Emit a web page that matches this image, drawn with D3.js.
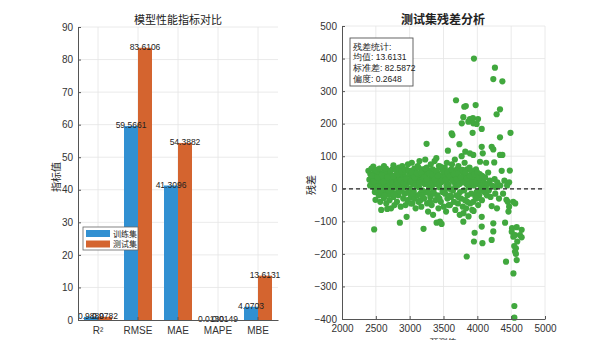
<!DOCTYPE html>
<html>
<head>
<meta charset="utf-8">
<script src="https://cdn.jsdelivr.net/npm/d3@7/dist/d3.min.js"></script>
<style>
  html, body { margin: 0; padding: 0; background: #fff; }
  svg { display: block; }
  text { font-family: "Liberation Sans", Arial, sans-serif; }
  .cjk { font-family: "Noto Sans CJK SC", sans-serif; }
</style>
</head>
<body>
<svg id="chart" width="600" height="340"></svg>
<script>
// ---- metric comparison (bars) ----
const metrics = ["R²", "RMSE", "MAE", "MAPE", "MBE"];
const trainValues = [0.9880, 59.5661, 41.3096, 0.0130, 4.0703];
const testValues = [0.9782, 83.6106, 54.3882, 0.0149, 13.6131];
const seriesNames = ["训练集", "测试集"];
const barTicks = [0, 10, 20, 30, 40, 50, 60, 70, 80, 90];

// ---- test-set residuals: [predicted value, residual] ----
const residuals = [
  [2390,55],[2405,28],[2420,45],[2435,62],[2445,18],[2455,38],[2462,68],[2470,5],[2478,48],[2485,-10],[2490,25],[2495,-34],[2475,-125],
  [2505,40],[2512,15],[2520,55],[2528,-5],[2535,30],[2545,-20],[2550,48],[2560,10],[2565,-40],[2572,35],[2580,-65],[2585,20],[2592,-15],[2598,45],
  [2605,5],[2612,38],[2620,-28],[2625,55],[2632,15],[2640,-10],[2648,42],[2655,-45],[2660,25],[2668,-62],[2675,8],[2680,50],[2688,-18],[2695,30],
  [2702,-35],[2710,45],[2718,12],[2725,-60],[2730,28],[2738,-8],[2745,60],[2752,18],[2760,-25],[2768,40],[2775,-50],[2782,5],[2790,35],[2798,-15],
  [2805,22],[2812,-40],[2820,50],[2826,0],[2834,-20],[2840,65],[2848,30],[2855,-104],[2860,10],[2868,-55],[2875,42],[2882,-5],[2890,70],[2896,20],
  [2905,-30],[2912,48],[2920,5],[2926,-15],[2934,35],[2940,-50],[2948,60],[2955,-86],[2960,15],[2968,-35],[2975,75],[2982,25],[2990,-10],[2996,45],
  [3005,0],[3012,55],[3018,-25],[3025,30],[3032,80],[3040,-45],[3046,15],[3054,40],[3060,-8],[3068,62],[3074,-30],[3080,22],[3088,-60],[3095,50],
  [3102,10],[3110,-20],[3118,70],[3124,35],[3130,-40],[3138,5],[3145,85],[3150,45],[3158,-15],[3165,25],[3172,-55],[3180,60],[3186,-5],[3194,30],
  [3205,-123],[3208,50],[3215,-30],[3222,15],[3230,90],[3236,40],[3244,-10],[3250,138],[3252,65],[3258,-45],[3265,20],[3272,-70],[3280,55],[3288,5],[3295,30],
  [3305,-25],[3312,75],[3318,40],[3325,-50],[3332,10],[3340,60],[3346,-80],[3354,25],[3360,-15],[3368,85],[3374,45],[3380,-35],[3388,15],[3394,94],[3398,-104],
  [3405,50],[3412,-20],[3420,30],[3426,-60],[3432,70],[3440,5],[3448,-101],[3452,40],[3460,-40],[3466,20],[3472,-108],[3478,60],[3485,-10],[3492,35],
  [3505,-55],[3510,25],[3518,65],[3524,-15],[3530,45],[3538,-70],[3545,10],[3550,80],[3558,-30],[3565,117],[3570,30],[3578,-50],[3585,55],[3592,0],
  [3596,-50],[3605,40],[3612,-25],[3620,170],[3625,75],[3632,165],[3640,-5],[3646,50],[3654,-40],[3660,20],[3668,90],[3675,-65],[3682,35],[3685,272],[3690,-20],[3698,60],
  [3705,10],[3712,-45],[3720,70],[3728,30],[3735,137],[3740,-80],[3745,-10],[3752,55],[3760,-30],[3768,100],[3770,201],[3776,20],[3785,-55],[3793,-101],[3795,-75],[3793,220],[3798,45],
  [3807,252],[3822,114],[3830,254],[3805,-5],[3812,80],[3818,-35],[3825,30],[3835,-60],[3840,15],[3843,-208],[3848,60],[3855,-20],[3862,40],[3867,206],[3870,-85],[3878,5],[3885,65],[3890,214],[3890,109],[3895,-45],
  [3902,25],[3910,-15],[3918,50],[3925,-65],[3930,172],[3935,217],[3940,201],[3940,104],[3940,-40],[3945,-68],[3950,400],[3950,-162],[3952,10],[3960,-135],[3965,35],[3972,-25],[3975,257],[3980,60],[3988,-10],[3990,199],
  [4005,30],[4010,214],[4012,-50],[4020,15],[4028,-20],[4035,45],[4040,83],[4048,-5],[4055,25],[4065,184],[4065,129],[4065,-86],[4065,-116],[4068,-35],[4075,-167],[4080,109],[4085,5],[4095,20],
  [4105,-10],[4115,35],[4125,0],[4130,80],[4140,-20],[4150,15],[4160,50],[4170,-5],[4185,25],[4195,-25],
  [4212,129],[4212,-53],[4212,-157],[4220,10],[4236,121],[4236,-106],[4236,-131],[4236,337],[4250,81],[4260,372],[4255,30],[4265,-15],[4270,5],[4285,229],[4290,-60],[4295,20],
  [4335,244],[4335,158],[4335,104],[4370,330],[4370,104],[4320,-30],[4340,10],[4360,55],[4380,-15],[4400,25],[4410,-104],[4424,-224],[4430,-34],[4450,-40],[4440,10],[4460,-70],[4470,-55],[4480,56],[4490,172],[4470,20],
  [4508,-132],[4513,-121],[4530,-40],[4533,-260],[4532,-147],[4545,-176],[4547,-360],[4547,-396],[4557,-142],[4557,-193],[4560,-45],[4570,-183],[4570,-200],[4582,-219],[4582,-118],[4590,-162],[4630,-142],[4655,-126],[4655,-149],
  // the densely packed core of the cloud
  [2415,10],[2440,40],[2465,22],[2500,58],[2525,35],[2540,8],[2555,62],[2575,-8],[2590,42],[2615,22],[2630,-20],[2650,62],[2670,35],[2690,-5],
  [2715,55],[2735,5],[2755,38],[2772,-18],[2795,58],[2815,15],[2830,45],[2850,-8],[2870,25],[2885,52],[2910,18],[2930,58],[2950,30],[2970,-12],
  [2985,55],[3008,22],[3030,50],[3050,-15],[3070,35],[3090,10],[3108,48],[3128,65],[3148,18],[3168,50],[3190,-20],[3212,35],[3232,62],[3255,28],
  [3275,-12],[3292,48],[3315,15],[3335,45],[3350,-5],[3372,28],[3392,55],[3415,40],[3435,15],[3455,68],[3475,25],[3495,52],[3515,-5],[3535,28],
  [3555,50],[3575,12],[3595,38],[3615,60],[3635,25],[3655,45],[3672,5],[3695,30],[3715,48],[3738,15],[3758,35],[3780,58],[3800,20],[3820,50],
  [3845,32],[3865,12],[3888,40],[3908,55],[3928,20],[3958,45],[3982,15],[4000,50],[4025,35],[4045,10],[4070,40],[2620,70],[2760,72],[3020,-45],
  [3160,-35],[3300,-40],[3440,-30],[3600,-20],[3720,-25],[3850,-40],[3990,-30]
];
const residualXTicks = [2000, 2500, 3000, 3500, 4000, 4500, 5000];
const residualYTicks = [-400, -300, -200, -100, 0, 100, 200, 300, 400, 500];
const statLines = ["残差统计:", "均值: 13.6131", "标准差: 82.5872", "偏度: 0.2648"];

const colors = { train: "#3190d2", test: "#d4642f", dots: "#41a83e" };
const gridColor = "#e4e4e4";
const axisColor = "#555";
const tickText = "#333";

const svg = d3.select("#chart");

// ================= left panel: grouped bars =================
const L = { left: 78, right: 278, top: 27, bottom: 320 };
const x0 = d3.scaleBand().domain(metrics).range([L.left, L.right]).paddingInner(0.3).paddingOuter(0.15);
const x1 = d3.scaleBand().domain(["train", "test"]).range([0, x0.bandwidth()]);
const yL = d3.scaleLinear().domain([0, 90]).range([L.bottom, L.top]);

const gl = svg.append("g");
// grid
gl.append("g").selectAll("line").data(barTicks.slice(1)).join("line")
  .attr("x1", L.left).attr("x2", L.right)
  .attr("y1", d => yL(d)).attr("y2", d => yL(d))
  .attr("stroke", gridColor).attr("stroke-width", 0.8);
gl.append("g").selectAll("line").data(metrics).join("line")
  .attr("x1", d => x0(d) + x0.bandwidth() / 2).attr("x2", d => x0(d) + x0.bandwidth() / 2)
  .attr("y1", L.top).attr("y2", L.bottom)
  .attr("stroke", gridColor).attr("stroke-width", 0.8);

// bars
const barRows = metrics.map((m, i) => ({ m, train: trainValues[i], test: testValues[i] }));
const groups = gl.append("g").selectAll("g").data(barRows).join("g")
  .attr("transform", d => `translate(${x0(d.m)},0)`);
groups.selectAll("rect").data(d => [["train", d.train], ["test", d.test]]).join("rect")
  .attr("x", d => x1(d[0]))
  .attr("width", x1.bandwidth())
  .attr("y", d => yL(d[1]))
  .attr("height", d => yL(0) - yL(d[1]))
  .attr("fill", d => colors[d[0]]);
groups.selectAll("text").data(d => [["train", d.train], ["test", d.test]]).join("text")
  .attr("x", d => x1(d[0]) + x1.bandwidth() / 2)
  .attr("y", d => yL(d[1]) + 2)
  .attr("text-anchor", "middle")
  .attr("font-size", 8.5)
  .attr("fill", "#222")
  .text(d => d[1].toFixed(4));

// axes
const axL = gl.append("g").attr("transform", `translate(${L.left},0)`)
  .call(d3.axisLeft(yL).tickValues(barTicks).tickSize(-3).tickPadding(5));
const axB = gl.append("g").attr("transform", `translate(0,${L.bottom})`)
  .call(d3.axisBottom(x0).tickSize(-3).tickPadding(5).tickSizeOuter(0));
[axL, axB].forEach(a => {
  a.select(".domain").attr("stroke", axisColor);
  a.selectAll(".tick line").attr("stroke", axisColor);
  a.selectAll("text").attr("font-size", 10).attr("fill", tickText)
    .attr("font-family", "'Liberation Sans', Arial, sans-serif");
});
axB.selectAll(".tick text").attr("dy", "0.9em");

// labels
gl.append("text").attr("class", "cjk").attr("x", 178).attr("y", 24)
  .attr("text-anchor", "middle").attr("font-size", 11).attr("fill", "#222")
  .text("模型性能指标对比");
gl.append("text").attr("class", "cjk")
  .attr("transform", "translate(60,177) rotate(-90)")
  .attr("text-anchor", "middle").attr("font-size", 10).attr("fill", "#222")
  .text("指标值");

// legend
const lg = gl.append("g").attr("transform", "translate(83,227)");
lg.append("rect").attr("width", 55).attr("height", 23).attr("fill", "#fff").attr("stroke", "#666").attr("stroke-width", 0.8);
seriesNames.forEach((name, i) => {
  const key = i === 0 ? "train" : "test";
  lg.append("rect").attr("x", 3).attr("y", 3 + i * 10.5).attr("width", 24).attr("height", 7).attr("fill", colors[key]);
  lg.append("text").attr("class", "cjk").attr("x", 30).attr("y", 9.5 + i * 10.5)
    .attr("font-size", 8).attr("fill", "#222").text(name);
});

// ================= right panel: residual scatter =================
const R = { left: 342, right: 545, top: 26, bottom: 319 };
const xR = d3.scaleLinear().domain([2000, 5000]).range([R.left, R.right]);
const yR = d3.scaleLinear().domain([-400, 500]).range([R.bottom, R.top]);

const gr = svg.append("g");
gr.append("g").selectAll("line").data(residualYTicks.slice(1)).join("line")
  .attr("x1", R.left).attr("x2", R.right)
  .attr("y1", d => yR(d)).attr("y2", d => yR(d))
  .attr("stroke", gridColor).attr("stroke-width", 0.8);
gr.append("g").selectAll("line").data(residualXTicks.slice(1)).join("line")
  .attr("x1", d => xR(d)).attr("x2", d => xR(d))
  .attr("y1", R.top).attr("y2", R.bottom)
  .attr("stroke", gridColor).attr("stroke-width", 0.8);

gr.append("g").selectAll("circle").data(residuals).join("circle")
  .attr("cx", d => xR(d[0]))
  .attr("cy", d => yR(d[1]))
  .attr("r", 3.1)
  .attr("fill", colors.dots);

// zero reference line
gr.append("line")
  .attr("x1", R.left).attr("x2", R.right)
  .attr("y1", yR(0)).attr("y2", yR(0))
  .attr("stroke", "#222").attr("stroke-width", 1.2).attr("stroke-dasharray", "4,3");

const axRL = gr.append("g").attr("transform", `translate(${R.left},0)`)
  .call(d3.axisLeft(yR).tickValues(residualYTicks).tickFormat(d3.format("d")).tickSize(-3).tickPadding(5));
const axRB = gr.append("g").attr("transform", `translate(0,${R.bottom})`)
  .call(d3.axisBottom(xR).tickValues(residualXTicks).tickFormat(d3.format("d")).tickSize(-3).tickPadding(4).tickSizeOuter(0));
[axRL, axRB].forEach(a => {
  a.select(".domain").attr("stroke", axisColor);
  a.selectAll(".tick line").attr("stroke", axisColor);
  a.selectAll("text").attr("font-size", 10).attr("fill", tickText)
    .attr("font-family", "'Liberation Sans', Arial, sans-serif");
});
axRB.selectAll(".tick text").attr("dy", "0.9em");

gr.append("text").attr("class", "cjk").attr("x", 443).attr("y", 24)
  .attr("text-anchor", "middle").attr("font-size", 12).attr("font-weight", "bold").attr("fill", "#222")
  .text("测试集残差分析");
gr.append("text").attr("class", "cjk")
  .attr("transform", "translate(315,185) rotate(-90)")
  .attr("text-anchor", "middle").attr("font-size", 10).attr("fill", "#222")
  .text("残差");
gr.append("text").attr("class", "cjk").attr("x", 443).attr("y", 346)
  .attr("text-anchor", "middle").attr("font-size", 9).attr("fill", "#222")
  .text("预测值");

// statistics box
const sb = gr.append("g").attr("transform", "translate(350,38)");
sb.append("rect").attr("width", 63).attr("height", 48).attr("fill", "#fff").attr("stroke", "#555").attr("stroke-width", 0.9);
sb.selectAll("text").data(statLines).join("text")
  .attr("x", 3).attr("y", (d, i) => 11.5 + i * 10.8)
  .attr("font-size", 8.5).attr("fill", "#222")
  .attr("font-family", "'Liberation Sans', 'Noto Sans CJK SC', sans-serif")
  .text(d => d);
</script>
</body>
</html>
